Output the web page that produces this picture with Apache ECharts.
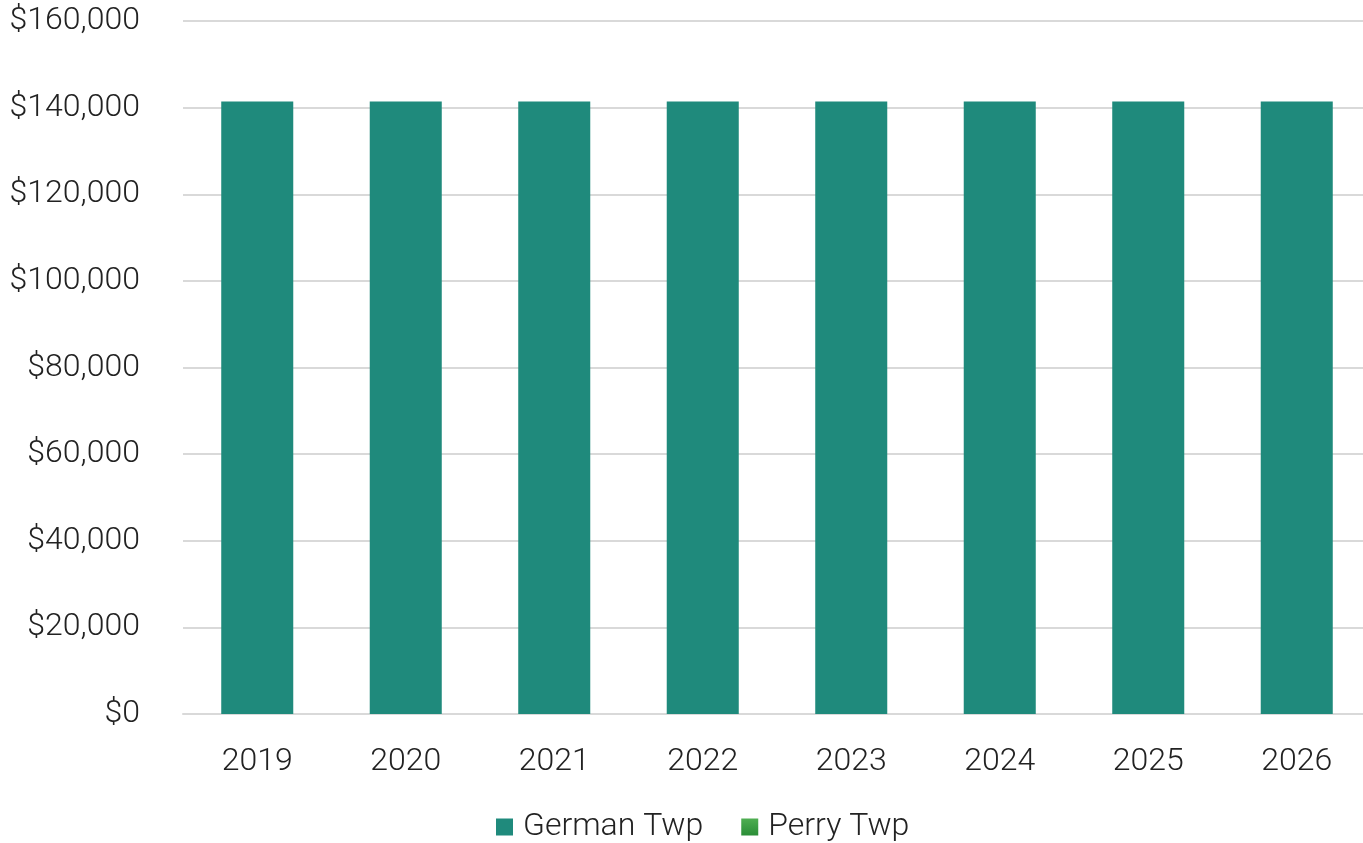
<!DOCTYPE html>
<html>
<head>
<meta charset="utf-8">
<style>
  html, body { margin: 0; padding: 0; background: #fff; overflow: hidden; }
  #chart { width: 1371px; height: 843px; }
</style>
<script src="https://cdn.jsdelivr.net/npm/echarts@6/dist/echarts.min.js"></script>
</head>
<body>
<div id="chart"></div>
<script>
const years = ['2019', '2020', '2021', '2022', '2023', '2024', '2025', '2026'];
const germanTwp = [141400, 141400, 141400, 141400, 141400, 141400, 141400, 141400];
const perryTwp = [0, 0, 0, 0, 0, 0, 0, 0];

const chart = echarts.init(document.getElementById('chart'));
const font = 'Roboto';
chart.setOption({
  animation: false,
  textStyle: { fontFamily: font },
  grid: { left: 183, width: 1188, top: 21, height: 693 },
  legend: {
    bottom: -5,
    left: 491,
    itemWidth: 17,
    itemHeight: 17,
    itemGap: 38,
    icon: 'rect',
    textStyle: { fontFamily: font, fontWeight: 300, fontSize: 32, color: '#222', padding: [0, 0, 0, 5] },
    data: ['German Twp', 'Perry Twp']
  },
  xAxis: {
    type: 'category',
    data: years,
    axisLine: { lineStyle: { color: '#d9d9d9', width: 2 } },
    axisTick: { show: false },
    axisLabel: { fontFamily: font, fontWeight: 300, fontSize: 32, color: '#222', margin: 32 }
  },
  yAxis: {
    type: 'value',
    min: 0,
    max: 160000,
    interval: 20000,
    axisLine: { show: false },
    axisTick: { show: false },
    splitLine: { lineStyle: { color: '#d9d9d9', width: 2 } },
    axisLabel: {
      fontFamily: font, fontWeight: 300, fontSize: 32, color: '#222', margin: 43,
      formatter: v => '$' + v.toLocaleString('en-US')
    }
  },
  series: [
    {
      name: 'German Twp',
      type: 'bar',
      stack: 'total',
      data: germanTwp,
      barWidth: '48.5%',
      itemStyle: { color: '#1f8a7c' }
    },
    {
      name: 'Perry Twp',
      type: 'bar',
      stack: 'total',
      data: perryTwp,
      itemStyle: {
        color: new echarts.graphic.LinearGradient(0, 0, 0, 1, [
          { offset: 0, color: '#4fae52' },
          { offset: 1, color: '#2a8d37' }
        ])
      }
    }
  ]
});
</script>
</body>
</html>
